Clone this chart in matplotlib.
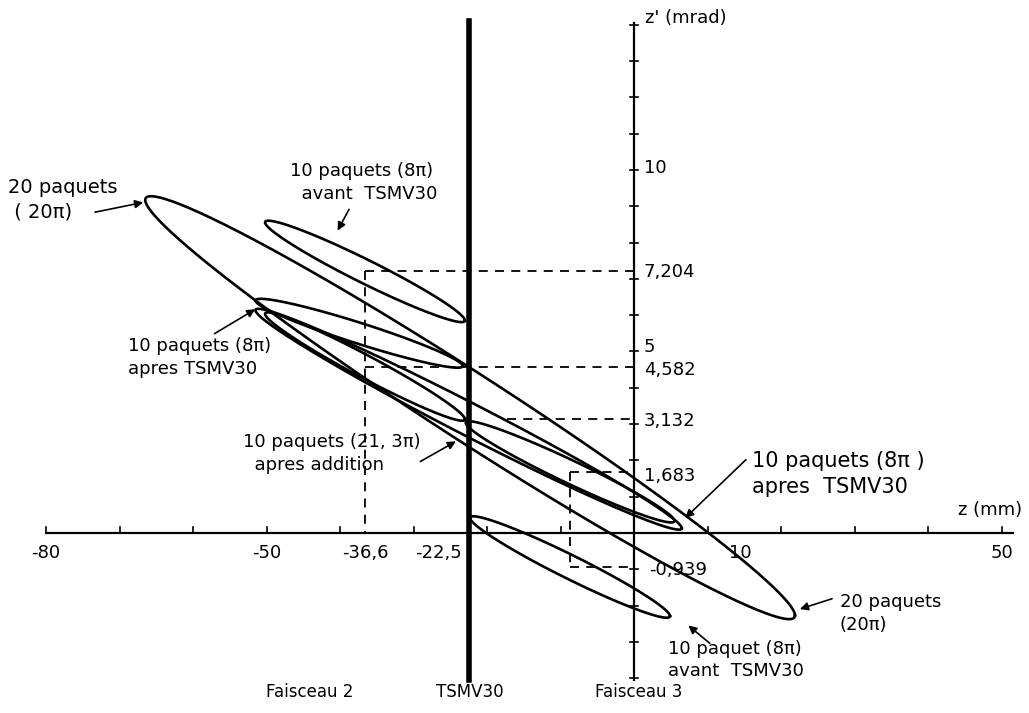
import numpy as np
import matplotlib.pyplot as plt

# ellipses d'emittance : centre (z mm, z' mrad), demi-largeur en z, pente, demi-hauteur
ell_nom = ['20 paquets', 'avant g', 'x g', 'apres g', 'addition', 'apres d', 'avant d']
ell_zc = [-22.3, -36.6, -37.4, -36.6, -22.5, -8.7, -8.7]
ell_zpc = [3.45, 7.204, 5.5, 4.582, 3.132, 1.683, -0.939]
ell_a = [44.2, 13.6, 14.1, 13.6, 29.0, 14.2, 13.6]
ell_k = [5.72, 1.35, 0.9, 1.45, 3.0, 1.35, 1.35]
ell_h = [1.1, 0.36, 0.3, 0.35, 0.5, 0.35, 0.36]

# valeurs reperes
z_septum = -22.5
z_f2 = -36.6
z_f3 = -8.7
zp_f2 = [7.204, 4.582]
zp_add = 3.132
zp_f3 = [1.683, -0.939]

z_ticks = np.arange(-80, 51, 10)
zp_ticks = np.arange(-4, 15, 1)
z_labels = {-80: '-80', -50: '-50', -36.6: '-36,6', 50: '50'}
zp_labels = {10: '10', 7.204: '7,204', 5: '5', 4.582: '4,582', 3.132: '3,132',
             1.683: '1,683', -0.939: '-0,939'}

plt.rcParams['font.family'] = ['DejaVu Sans']

fig = plt.figure(figsize=(10.29, 7.13), dpi=100)
ax = fig.add_axes([0, 0, 1, 1])
ax.set_xlim(-86.26, 53.74)
ax.set_ylim(-4.96, 14.68)
ax.axis('off')

# axes
ax.plot([-80, 51.5], [0, 0], color='black', lw=1.6)
for z in z_ticks:
    ax.plot([z, z], [0, 0.15], color='black', lw=1.2)
ax.plot([0, 0], [-4.05, 14.05], color='black', lw=1.6)
for zp in zp_ticks:
    if zp != 0:
        ax.plot([-0.5, 0.5], [zp, zp], color='black', lw=1.2)

# septum TSMV30
ax.plot([z_septum, z_septum], [-4.05, 14.1], color='black', lw=4)

# pointilles
dash = dict(color='black', lw=1.3, ls=(0, (5, 4)))
ax.plot([z_f2, 0], [zp_f2[0], zp_f2[0]], **dash)
ax.plot([z_f2, z_f2], [zp_f2[0], 0], **dash)
ax.plot([z_f2, 0], [zp_f2[1], zp_f2[1]], **dash)
ax.plot([-17.3, 0], [zp_add, zp_add], **dash)
ax.plot([z_f3, 0], [zp_f3[0], zp_f3[0]], **dash)
ax.plot([z_f3, z_f3], [zp_f3[0], zp_f3[1]], **dash)
ax.plot([z_f3, 0], [zp_f3[1], zp_f3[1]], **dash)

# ellipses
t = np.linspace(0, 2 * np.pi, 500)
for zc, zpc, a, k, h in zip(ell_zc, ell_zpc, ell_a, ell_k, ell_h):
    ax.plot(zc + a * np.cos(t), zpc - k * np.cos(t) + h * np.sin(t), color='black', lw=1.9)

fs = 13
# graduations
for v, s in z_labels.items():
    ax.text(v, -0.3, s, ha='center', va='top', fontsize=fs)
ax.text(-23.4, -0.3, '-22,5', ha='right', va='top', fontsize=fs)
ax.text(14.4, -0.3, '10', ha='center', va='top', fontsize=fs)
ax.text(48.4, 0.63, 'z (mm)', ha='center', va='center', fontsize=fs)
ax.text(1.5, 14.19, "z' (mrad)", ha='left', va='center', fontsize=fs)
pos_y = {10: 10.05, 7.204: 7.19, 5: 5.12, 4.582: 4.5, 3.132: 3.09, 1.683: 1.57, -0.939: -1.02}
pos_x = {10: 1.3, 7.204: 1.3, 5: 1.3, 4.582: 1.3, 3.132: 1.3, 1.683: 1.3, -0.939: 2.0}
for v, s in zp_labels.items():
    ax.text(pos_x[v], pos_y[v], s, ha='left', va='center', fontsize=fs)

arrow = dict(arrowstyle='-|>', color='black', lw=1.2, mutation_scale=12)

def note(lines, xy_txt, xy_arrow, xy_head, size=fs):
    ax.text(xy_txt[0], xy_txt[1], lines, ha='left', va='center', fontsize=size, linespacing=1.35)
    ax.annotate('', xy=xy_head, xytext=xy_arrow, arrowprops=arrow)

note('20 paquets\n ( 20π)', (-85.2, 9.18), (-73.7, 8.82), (-66.4, 9.12), size=14)
note('10 paquets (8π)\n  avant  TSMV30', (-46.8, 9.66), (-38.6, 8.98), (-40.5, 8.26))
note('10 paquets (8π)\napres TSMV30', (-68.8, 4.84), (-57.4, 5.45), (-51.2, 6.2))
note('10 paquets (21, 3π)\n  apres addition', (-53.2, 2.18), (-29.4, 1.93), (-23.9, 2.56))
note('10 paquets (8π )\napres  TSMV30', (16.05, 1.63), (15.5, 2.07), (6.7, 0.36), size=15)
note('20 paquets\n(20π)', (28.0, -2.22), (27.3, -1.79), (22.2, -2.12))
note('10 paquet (8π)\navant  TSMV30', (4.6, -3.5), (10.6, -3.09), (7.1, -2.5))

ax.text(-44.1, -4.38, 'Faisceau 2', ha='center', va='center', fontsize=12)
ax.text(-22.3, -4.38, 'TSMV30', ha='center', va='center', fontsize=12)
ax.text(0.6, -4.38, 'Faisceau 3', ha='center', va='center', fontsize=12)

fig.savefig('out.png', dpi=100)
